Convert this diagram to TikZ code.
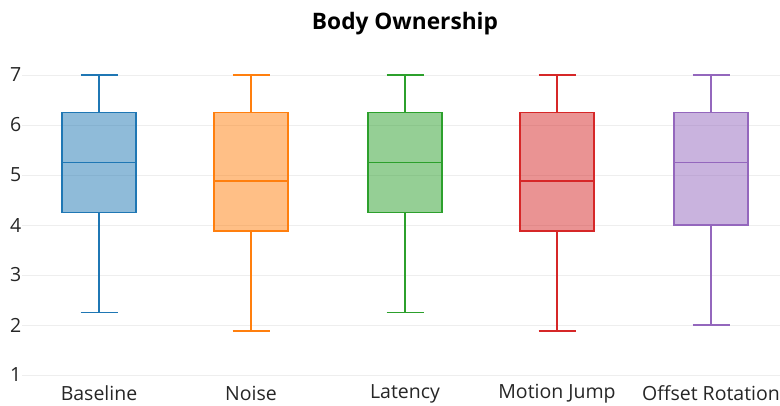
\documentclass[tikz,border=0pt]{standalone}
\usepackage{fontspec}
\setmainfont{Open Sans}
\usetikzlibrary{positioning}

\definecolor{cblue}{HTML}{1F77B4}
\definecolor{corange}{HTML}{FF7F0E}
\definecolor{cgreen}{HTML}{2CA02C}
\definecolor{cred}{HTML}{D62728}
\definecolor{cpurple}{HTML}{9467BD}
\definecolor{gridgray}{HTML}{EEEEEE}

\tikzset{
  grid/.style={gridgray, line width=1pt},
  ticklab/.style={font=\fontsize{19.5}{21}\selectfont, text=black!85, inner sep=0pt},
  boxbody/.style={draw=#1, fill=#1, fill opacity=0.5, draw opacity=1, line width=1.6pt},
  whisk/.style={#1, line width=1.6pt}
}

\begin{document}
\begin{tikzpicture}[x=1pt, y=-1pt, line cap=butt]
\useasboundingbox (0,0) rectangle (780,405);
% grid lines and y ticks (value v sits at 425-50v)
\foreach \v in {1,...,7} {
  \draw[grid] (22,425-50*\v) -- (780,425-50*\v);
  \node[ticklab, anchor=east] (tick\v) at (21.5,425-50*\v) {\v};
}
% title
\node[font=\fontsize{22.7}{26}\selectfont\bfseries] (title) at (405,24) {Body Ownership};
% one box per condition: centre / q1 / median / q3 / lower whisker / colour / label
\foreach \cx/\qa/\md/\qc/\lo/\col/\lab [count=\i] in {
    99/4.25/5.25/6.25/2.25/cblue/Baseline,
    251/3.875/4.875/6.25/1.875/corange/Noise,
    405/4.25/5.25/6.25/2.25/cgreen/Latency,
    557/3.875/4.875/6.25/1.875/cred/Motion Jump,
    711/4/5.25/6.25/2/cpurple/Offset Rotation} {
  \draw[whisk=\col] (\cx,425-50*\lo) -- (\cx,425-50*\qa);
  \draw[whisk=\col] (\cx,425-50*\qc) -- (\cx,75);
  \draw[whisk=\col] (\cx-18.5,425-50*\lo) -- (\cx+18.5,425-50*\lo);
  \draw[whisk=\col] (\cx-18.5,75) -- (\cx+18.5,75);
  \draw[boxbody=\col] (\cx-37,425-50*\qa) rectangle (\cx+37,425-50*\qc);
  \draw[whisk=\col] (\cx-37,425-50*\md) -- (\cx+37,425-50*\md);
  \node[ticklab] (lab\i) at (\cx,393.5) {\lab};
}
\end{tikzpicture}
\end{document}
